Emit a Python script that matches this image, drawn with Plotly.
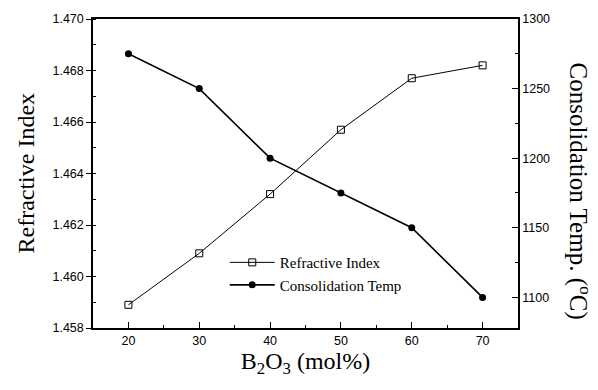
import plotly.graph_objects as go

b2o3 = [20, 30, 40, 50, 60, 70]
refractive_index = [1.4589, 1.4609, 1.4632, 1.4657, 1.4677, 1.4682]
consolidation_temp = [1275, 1250, 1200, 1175, 1150, 1100]

serif = "Liberation Serif, Times New Roman, serif"

fig = go.Figure()
fig.add_trace(go.Scatter(
    x=b2o3, y=refractive_index, name="Refractive Index",
    mode="lines+markers",
    line=dict(color="black", width=1),
    marker=dict(symbol="square-open", size=7, color="black", line=dict(width=1)),
))
fig.add_trace(go.Scatter(
    x=b2o3, y=consolidation_temp, name="Consolidation Temp",
    mode="lines+markers", yaxis="y2",
    line=dict(color="black", width=1.6),
    marker=dict(symbol="circle", size=7, color="black"),
))

tickfont = dict(family="Liberation Sans, Arial, sans-serif", size=12.5, color="black")
fig.update_layout(
    width=598, height=390,
    margin=dict(l=93, r=80, t=16, b=62),
    paper_bgcolor="white", plot_bgcolor="white",
    showlegend=True,
    legend=dict(x=0.31, y=0.265, xanchor="left", yanchor="top",
                bgcolor="rgba(0,0,0,0)",
                font=dict(family=serif, size=15, color="black"),
                tracegroupgap=0, itemwidth=45),
    xaxis=dict(range=[15, 75], tickvals=[20, 30, 40, 50, 60, 70],
               ticks="inside", ticklen=6, tickcolor="black",
               minor=dict(dtick=5, tick0=0, ticks="inside", ticklen=3, tickcolor="black"),
               showline=True, linecolor="black", linewidth=1.5, mirror=True,
               showgrid=False, zeroline=False, tickfont=tickfont,
               title=dict(text="B<sub>2</sub>O<sub>3</sub> (mol%)",
                          font=dict(family=serif, size=24, color="black"),
                          standoff=4)),
    yaxis=dict(range=[1.458, 1.470], tickvals=[1.458, 1.460, 1.462, 1.464, 1.466, 1.468, 1.470],
               tickformat=".3f",
               ticks="outside", ticklen=5, tickcolor="black",
               minor=dict(dtick=0.001, tick0=1.458, ticks="inside", ticklen=3, tickcolor="black"),
               showline=True, linecolor="black", linewidth=1.5,
               showgrid=False, zeroline=False, tickfont=tickfont),
    yaxis2=dict(range=[1078, 1300], overlaying="y", side="right",
                tickvals=[1100, 1150, 1200, 1250, 1300],
                ticks="inside", ticklen=6, tickcolor="black",
                minor=dict(dtick=25, tick0=1100, ticks="inside", ticklen=3, tickcolor="black"),
                showline=True, linecolor="black", linewidth=1.5,
                showgrid=False, zeroline=False, tickfont=tickfont),
    annotations=[
        dict(text="Refractive Index", textangle=-90,
             xref="paper", yref="paper", x=0.0, xshift=-68, y=0.5,
             xanchor="center", yanchor="middle", showarrow=False,
             font=dict(family=serif, size=24, color="black")),
        dict(text="Consolidation Temp. (<sup>o</sup>C)", textangle=90,
             xref="paper", yref="paper", x=1.0, xshift=62, y=0.445,
             xanchor="center", yanchor="middle", showarrow=False,
             font=dict(family=serif, size=25, color="black")),
    ],
)

fig.write_html("out.html")
